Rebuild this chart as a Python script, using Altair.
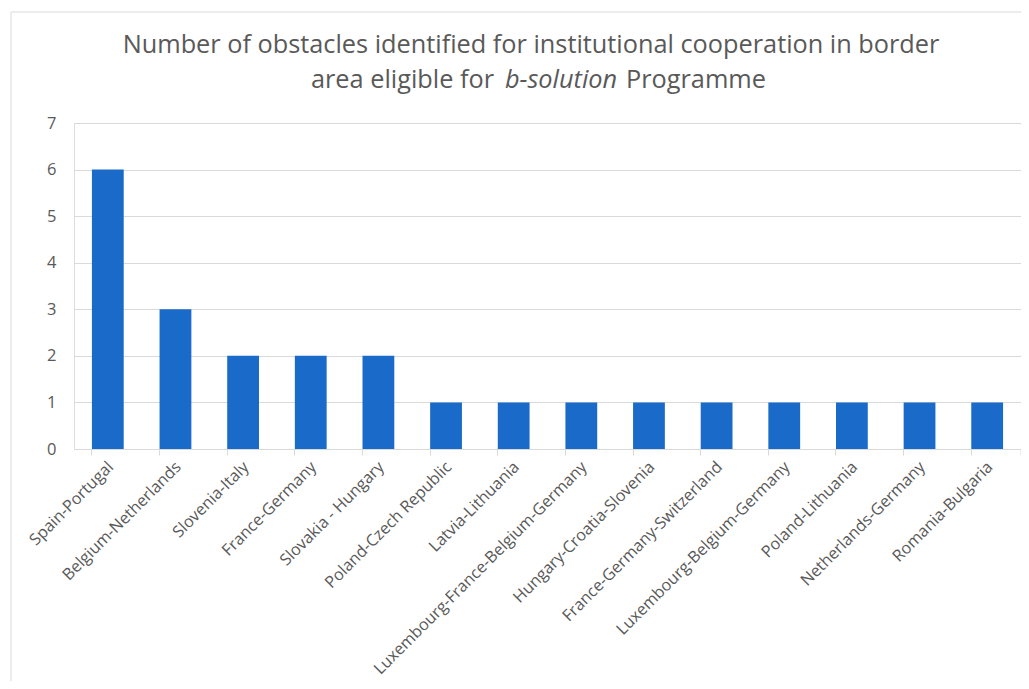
import altair as alt
import pandas as pd

regions = [
    "Spain-Portugal", "Belgium-Netherlands", "Slovenia-Italy", "France-Germany",
    "Slovakia - Hungary", "Poland-Czech Republic", "Latvia-Lithuania",
    "Luxembourg-France-Belgium-Germany", "Hungary-Croatia-Slovenia",
    "France-Germany-Switzerland", "Luxembourg-Belgium-Germany",
    "Poland-Lithuania", "Netherlands-Germany", "Romania-Bulgaria",
]
obstacles = [6, 3, 2, 2, 2, 1, 1, 1, 1, 1, 1, 1, 1, 1]

title_line1 = "Number of obstacles identified for institutional cooperation in border"
title_line2a = "area eligible for"
title_line2b = "b-solution"
title_line2c = "Programme"

W, H = 947, 326
FONT = "Open Sans"
GREY = "#595959"

df = pd.DataFrame({"region": regions, "value": obstacles})

bars = alt.Chart(df).mark_bar(color="#1a6bc9").encode(
    x=alt.X("region:N", sort=regions, title=None,
            scale=alt.Scale(paddingInner=0.53, paddingOuter=0.265),
            axis=alt.Axis(labelAngle=-45, labelAlign="right", labelBaseline="middle",
                          labelFont=FONT, labelFontSize=16.2, labelColor=GREY,
                          labelPadding=9, labelOffset=3, bandPosition=0, tickSize=6,
                          tickColor="#d9d9d9", domainColor="#d9d9d9", grid=False,
                          labelOverlap=False, labelLimit=0)),
    y=alt.Y("value:Q", title=None,
            scale=alt.Scale(domain=[0, 7], nice=False),
            axis=alt.Axis(values=list(range(8)), domain=False, ticks=False,
                          labelFont=FONT, labelFontSize=16.5, labelColor=GREY,
                          labelPadding=18, gridColor="#d9d9d9")),
)

one = pd.DataFrame({"k": [0]})

end_tick = alt.Chart(one).mark_rule(color="#d9d9d9").encode(
    x=alt.value(W), y=alt.value(H), y2=alt.value(H + 6))

frame = alt.Chart(one).mark_rect(fill=None, stroke="#d9d9d9", strokeWidth=1).encode(
    x=alt.value(-63), x2=alt.value(W + 40), y=alt.value(-111), y2=alt.value(H + 400))

def txt(s, x, y, align, style="normal"):
    return alt.Chart(pd.DataFrame({"t": [s]})).mark_text(
        font=FONT, fontSize=25.3, color=GREY, align=align, baseline="middle",
        fontStyle=style).encode(text="t:N", x=alt.value(x), y=alt.value(y))

t1 = txt(title_line1, 457, -78, "center")
t2a = txt(title_line2a, 420, -43, "right")
t2b = txt(title_line2b, 487, -43, "center", "italic")
t2c = txt(title_line2c, 552, -43, "left")

chart = alt.layer(frame, bars, end_tick, t1, t2a, t2b, t2c).properties(
    width=W, height=H,
    autosize=alt.AutoSizeParams(type="none"),
    padding={"left": 66, "top": 115, "right": 0, "bottom": 232},
).configure_view(stroke=None).configure(background="white")

chart.save("out.html", embed_options={"renderer": "svg", "actions": False})
